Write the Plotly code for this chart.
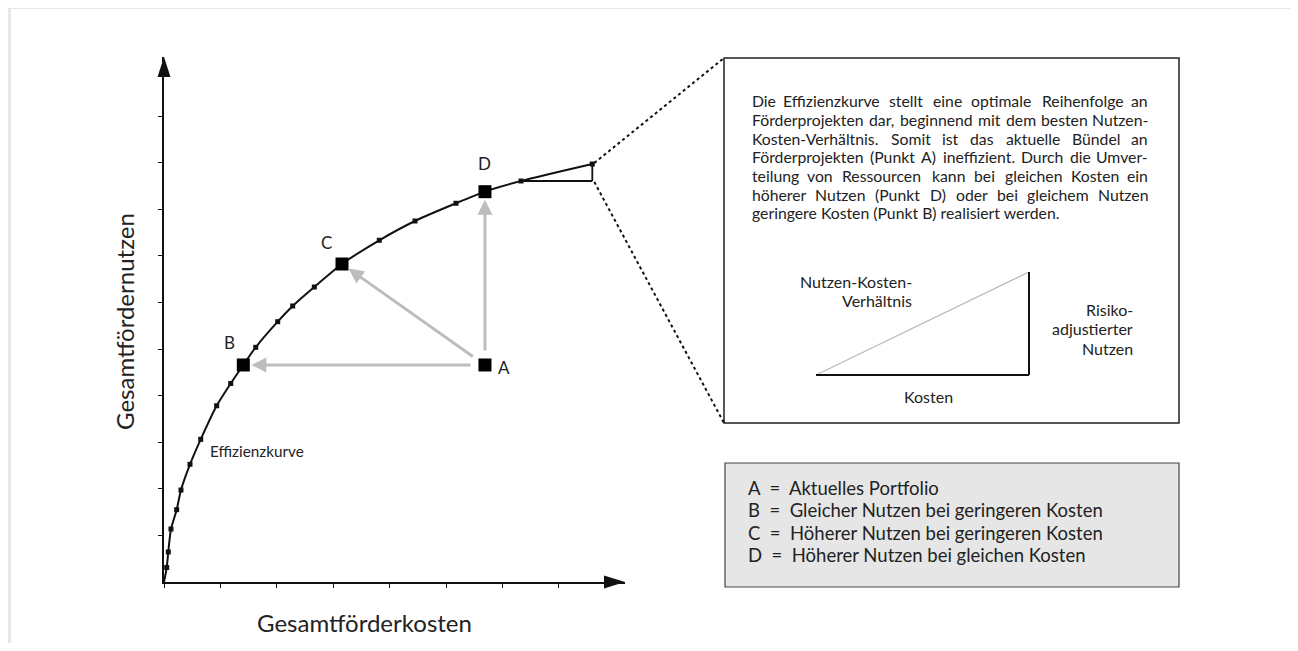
import plotly.graph_objects as go

# ---------------- data (axis tick units) ----------------
curve_cost = [0.0, 0.048, 0.076, 0.124, 0.225, 0.301, 0.461, 0.651, 0.934, 1.183, 1.406,
              1.626, 2.016, 2.282, 2.665, 3.156, 3.817, 4.450, 5.177, 5.691, 6.330, 7.594]
curve_benefit = [0.0, 0.311, 0.644, 1.137, 1.552, 1.974, 2.526, 3.062, 3.783, 4.260, 4.657,
                 5.036, 5.586, 5.923, 6.330, 6.824, 7.333, 7.747, 8.127, 8.376, 8.605, 8.970]

point_labels = ["A", "B", "C", "D"]
point_cost = [5.691, 1.406, 3.156, 5.691]
point_benefit = [4.657, 4.657, 6.824, 8.376]

x_ticks = [0, 1, 2, 3, 4, 5, 6, 7]
y_ticks = [1, 2, 3, 4, 5, 6, 7, 8, 9, 10]

x_title = "Gesamtförderkosten"
y_title = "Gesamtfördernutzen"
curve_label = "Effizienzkurve"

paragraph_lines = [
    "Die Effizienzkurve stellt eine optimale Reihenfolge an",
    "Förderprojekten dar, beginnend mit dem besten Nutzen-",
    "Kosten-Verhältnis. Somit ist das aktuelle Bündel an",
    "Förderprojekten (Punkt A) ineffizient. Durch die Umver-",
    "teilung von Ressourcen kann bei gleichen Kosten ein",
    "höherer Nutzen (Punkt D) oder bei gleichem Nutzen",
    "geringere Kosten (Punkt B) realisiert werden.",
]
ratio_label = ["Nutzen-Kosten-", "Verhältnis"]
benefit_label = ["Risiko-", "adjustierter", "Nutzen"]
cost_label = "Kosten"
legend_lines = [
    "A  =  Aktuelles Portfolio",
    "B  =  Gleicher Nutzen bei geringeren Kosten",
    "C  =  Höherer Nutzen bei geringeren Kosten",
    "D  =  Höherer Nutzen bei gleichen Kosten",
]

# ---------------- layout geometry (page pixels; page has an 8px body margin) ----------------
OFF = 8
W, H = 1290, 635
PL, PR, PT, PB = 164, 625, 57, 582          # plot area in page pixels
X_UNIT, Y_UNIT = 56.4, 46.6
x_max = (PR - PL) / X_UNIT
y_max = (PB - PT) / Y_UNIT


def X(px):
    return (px - PL) / (PR - PL)


def Y(py):
    return (PB - py) / (PB - PT)


def data_to_px(cx, cy):
    return PL + cx * X_UNIT, PB - cy * Y_UNIT


FONT = "Lato, 'Noto Sans', sans-serif"
TXT = "#222222"
GRAY_ARROW = "#bdbdbd"

# rough Lato advance widths (em) used only to spread words for justified lines
CW = {' ': .19, '-': .36, ',': .2, '.': .2, '(': .29, ')': .29,
      'a': .50, 'b': .55, 'c': .45, 'd': .55, 'e': .51, 'f': .31, 'g': .49, 'h': .55,
      'i': .24, 'j': .24, 'k': .49, 'l': .24, 'm': .83, 'n': .55, 'o': .55, 'p': .55,
      'q': .55, 'r': .36, 's': .42, 't': .34, 'u': .55, 'v': .49, 'w': .75, 'x': .48,
      'y': .49, 'z': .44, 'ä': .50, 'ö': .55, 'ü': .55,
      'A': .66, 'B': .63, 'C': .65, 'D': .72, 'E': .54, 'F': .52, 'G': .70, 'H': .74,
      'I': .28, 'K': .63, 'N': .74, 'P': .58, 'R': .62, 'S': .52, 'U': .70, 'V': .66}
CAL = 1.035


def est_width(s, size):
    return sum(CW.get(ch, .55) for ch in s) * size * CAL


fig = go.Figure()

# efficiency curve
fig.add_trace(go.Scatter(
    x=curve_cost, y=curve_benefit, mode="lines",
    line=dict(color="#111111", width=2, shape="spline", smoothing=0.7),
    hoverinfo="skip", showlegend=False))
fig.add_trace(go.Scatter(
    x=curve_cost[1:], y=curve_benefit[1:], mode="markers",
    marker=dict(symbol="square", size=5, color="#111111"),
    hoverinfo="skip", showlegend=False))
fig.add_trace(go.Scatter(
    x=point_cost, y=point_benefit, mode="markers",
    marker=dict(symbol="square", size=13, color="#000000"),
    hoverinfo="skip", showlegend=False))

shapes = []
annotations = []

# page frame (white card on light gray)
shapes.append(dict(type="rect", xref="paper", yref="paper", layer="below",
                   x0=X(11), x1=X(1294), y0=Y(9), y1=Y(700),
                   fillcolor="white", line=dict(width=0)))

# axis arrowheads
shapes.append(dict(type="path", xref="paper", yref="paper",
                   path=f"M {X(PL)},{Y(PT)} L {X(PL-6.5)},{Y(PT+20)} L {X(PL+6.5)},{Y(PT+20)} Z",
                   fillcolor="#111111", line=dict(width=0)))
shapes.append(dict(type="path", xref="paper", yref="paper",
                   path=f"M {X(PR)},{Y(PB)} L {X(PR-21)},{Y(PB-6.5)} L {X(PR-21)},{Y(PB+6.5)} Z",
                   fillcolor="#111111", line=dict(width=0)))

# small ratio triangle at the curve end
i1, i2 = len(curve_cost) - 2, len(curve_cost) - 1
shapes.append(dict(type="line", xref="x", yref="y",
                   x0=curve_cost[i1], y0=curve_benefit[i1], x1=curve_cost[i2], y1=curve_benefit[i1],
                   line=dict(color="#111111", width=1.8)))
shapes.append(dict(type="line", xref="x", yref="y",
                   x0=curve_cost[i2], y0=curve_benefit[i1], x1=curve_cost[i2], y1=curve_benefit[i2],
                   line=dict(color="#111111", width=1.8)))

# text box
BX0, BX1, BY0, BY1 = 724, 1179, 58, 423
shapes.append(dict(type="rect", xref="paper", yref="paper",
                   x0=X(BX0), x1=X(BX1), y0=Y(BY0), y1=Y(BY1),
                   fillcolor="white", line=dict(color="#222222", width=1.5)))

# dotted zoom lines
ex, ey = data_to_px(curve_cost[i2], curve_benefit[i2])
ex2, ey2 = data_to_px(curve_cost[i2], curve_benefit[i1])
shapes.append(dict(type="line", xref="paper", yref="paper",
                   x0=X(ex + 2), y0=Y(ey - 1), x1=X(BX0), y1=Y(BY0),
                   line=dict(color="#111111", width=2, dash="dot")))
shapes.append(dict(type="line", xref="paper", yref="paper",
                   x0=X(ex2 + 2), y0=Y(ey2 + 1), x1=X(BX0), y1=Y(BY1),
                   line=dict(color="#111111", width=2, dash="dot")))

# inner explanatory triangle
TX0, TX1, TY0, TY1 = 816, 1029, 272, 375
shapes.append(dict(type="line", xref="paper", yref="paper",
                   x0=X(TX0), y0=Y(TY1), x1=X(TX1), y1=Y(TY0),
                   line=dict(color="#bbbbbb", width=1.3)))
shapes.append(dict(type="line", xref="paper", yref="paper",
                   x0=X(TX0), y0=Y(TY1), x1=X(TX1), y1=Y(TY1),
                   line=dict(color="#111111", width=2)))
shapes.append(dict(type="line", xref="paper", yref="paper",
                   x0=X(TX1), y0=Y(TY0), x1=X(TX1), y1=Y(TY1),
                   line=dict(color="#111111", width=2)))

# legend box
shapes.append(dict(type="rect", xref="paper", yref="paper",
                   x0=X(725), x1=X(1179), y0=Y(463), y1=Y(587),
                   fillcolor="#e6e6e6", line=dict(color="#444444", width=1.2)))


def text(px, py, s, size, xanchor="left", angle=0, color=TXT):
    annotations.append(dict(xref="paper", yref="paper", x=X(px), y=Y(py), text=s,
                            showarrow=False, xanchor=xanchor, yanchor="middle",
                            textangle=angle,
                            font=dict(family=FONT, size=size, color=color)))


# paragraph, justified between PX0 and PX1 (last line ragged)
PX0, PX1 = 750, 1150
max_unit = max(est_width(l, 1.0) for l in paragraph_lines)
PSIZE = min(16.0, 0.975 * (PX1 - PX0) / max_unit)
for k, line in enumerate(paragraph_lines):
    py = 101 + k * 18.6
    if k == len(paragraph_lines) - 1:
        text(PX0, py, line, PSIZE)
        continue
    words = line.split(" ")
    widths = [est_width(w, PSIZE) for w in words]
    gap = (PX1 - PX0 - sum(widths)) / (len(words) - 1)
    xpos = PX0
    for j, w in enumerate(words):
        if j == 0:
            text(PX0, py, w, PSIZE)
        elif j == len(words) - 1:
            text(PX1, py, w, PSIZE, xanchor="right")
        else:
            text(xpos + widths[j] / 2, py, w, PSIZE, xanchor="center")
        xpos += widths[j] + gap

# triangle labels
for k, line in enumerate(ratio_label):
    text(914, 281 + k * 19.5, line, 16, xanchor="right")
for k, line in enumerate(benefit_label):
    text(1135, 309 + k * 19.5, line, 16, xanchor="right")
text(928, 396, cost_label, 16, xanchor="center")

# legend
for k, line in enumerate(legend_lines):
    text(746, 488 + k * 22.3, line, 18.5)

# axis titles and curve label
text(364, 622, x_title, 24, xanchor="center")
text(124, 322, y_title, 24, xanchor="center", angle=-90)
text(208, 451, curve_label, 15.3)

# point labels
label_shift = {"A": (19, -3), "B": (-14, 22), "C": (-16, 22), "D": (0, 28)}
for lab, cx, cy in zip(point_labels, point_cost, point_benefit):
    dx, dy = label_shift[lab]
    annotations.append(dict(xref="x", yref="y", x=cx, y=cy, text=lab, showarrow=False,
                            xshift=dx, yshift=dy, font=dict(family=FONT, size=17, color=TXT)))

# gray reallocation arrows from A to B, C, D
a_idx = point_labels.index("A")
for lab in ["B", "C", "D"]:
    j = point_labels.index(lab)
    annotations.append(dict(xref="x", yref="y", axref="x", ayref="y",
                            x=point_cost[j], y=point_benefit[j],
                            ax=point_cost[a_idx], ay=point_benefit[a_idx],
                            text="", showarrow=True, arrowhead=2, arrowsize=1.0,
                            arrowwidth=3, arrowcolor=GRAY_ARROW,
                            standoff=8, startstandoff=13))

fig.update_layout(
    width=W, height=H, autosize=False,
    margin=dict(l=PL - OFF, r=W - (PR - OFF), t=PT - OFF, b=H - (PB - OFF), pad=0),
    paper_bgcolor="#e7e7e7", plot_bgcolor="rgba(0,0,0,0)",
    shapes=shapes, annotations=annotations, showlegend=False,
    xaxis=dict(range=[0, x_max], showgrid=False, zeroline=False, showline=True,
               linecolor="#111111", linewidth=2, ticks="outside", ticklen=4, tickwidth=1.3,
               tickcolor="#111111", tickvals=x_ticks, showticklabels=False, fixedrange=True),
    yaxis=dict(range=[0, y_max], showgrid=False, zeroline=False, showline=True,
               linecolor="#111111", linewidth=2, ticks="outside", ticklen=4, tickwidth=1.3,
               tickcolor="#111111", tickvals=y_ticks, showticklabels=False, fixedrange=True),
)

fig.write_html("out.html", config={"displayModeBar": False})
